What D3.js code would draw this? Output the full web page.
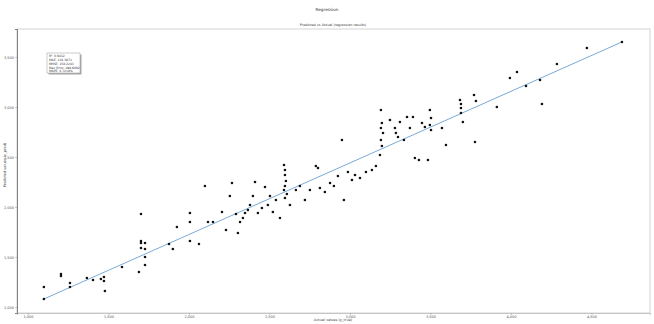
<!DOCTYPE html>
<head>
<meta charset="utf-8">
<style>
  body { margin: 0; background: #fff; }
  text { font-family: "DejaVu Sans", sans-serif; }
</style>
</head>
<body>
  <svg width="654" height="324"></svg>

  <script src="https://d3js.org/d3.v7.min.js"></script>
  <script>
  // actual (y_true) and predicted (y_pred)
  const actual = [
    1099, 1099, 1205, 1205, 1261, 1261, 1366, 1404, 1453, 1472, 1472, 1478, 1584, 1689,
    1702, 1702, 1702, 1727, 1702, 1727, 1727, 1727, 1876, 1900, 1925, 2006, 2006, 2006,
    2062, 2118, 2149, 2099, 2205, 2230, 2254, 2267, 2292, 2304, 2317, 2335, 2348, 2366,
    2379, 2397, 2410, 2428, 2453, 2472, 2490, 2503, 2521, 2540, 2565, 2590, 2596, 2596,
    2602, 2596, 2590, 2608, 2596, 2627, 2664, 2689, 2720, 2751, 2788, 2801, 2813, 2844,
    2876, 2900, 2925, 2950, 2962, 2987, 3012, 3031, 3062, 3099, 3136, 3161, 3192, 3198,
    3192, 3205, 3192, 3198, 3186, 3248, 3279, 3285, 3298, 3310, 3335, 3354, 3372, 3391,
    3403, 3428, 3447, 3465, 3484, 3496, 3503, 3496, 3503, 3571, 3596, 3683, 3689, 3689,
    3689, 3701, 3770, 3782, 3776, 3912, 3993, 4037, 4093, 4180, 4192, 4285, 4471, 4689
  ];
  const predicted = [
    1200, 1080, 1330, 1310, 1240, 1200, 1290, 1270, 1280, 1300, 1260, 1160, 1400, 1350,
    1930, 1660, 1640, 1640, 1590, 1580, 1500, 1420, 1630, 1580, 1800, 1940, 1850, 1660,
    1630, 1850, 1850, 2210, 1950, 1770, 2110, 2240, 1930, 1740, 1850, 1890, 1940, 1970,
    2020, 2110, 2250, 1940, 1990, 2200, 2020, 2110, 1950, 2070, 1890, 2420, 2370, 2320,
    2260, 2210, 2170, 2130, 2090, 2020, 2170, 2210, 2070, 2170, 2410, 2390, 2190, 2150,
    2240, 2210, 2310, 2670, 2070, 2350, 2270, 2320, 2290, 2350, 2370, 2410, 2970, 2840,
    2790, 2740, 2670, 2610, 2520, 2870, 2790, 2740, 2700, 2850, 2670, 2900, 2790, 2900,
    2490, 2470, 2840, 2800, 2470, 2970, 2890, 2820, 2770, 2790, 2620, 3070, 3030, 2990,
    2940, 2850, 3120, 3060, 2650, 3000, 3290, 3350, 3210, 3270, 3030, 3430, 3590, 3650
  ];

  // fitted line (predicted = slope * actual + intercept)
  const fitSlope = 0.716;
  const fitIntercept = 293;

  const xTicks = [1000, 1500, 2000, 2500, 3000, 3500, 4000, 4500];
  const yTicks = [1000, 1500, 2000, 2500, 3000, 3500];

  const legendLines = [
    'R\u00b2: 0.9412',
    'MAE: 124.3871',
    'RMSE: 158.2243',
    'Max Error: 498.6002',
    'MAPE: 4.7218%'
  ];

  const svg = d3.select('svg');
  const plotLeft = 17, plotRight = 650, plotTop = 29, plotBottom = 313;

  const x = d3.scaleLinear().domain([932, 4863]).range([plotLeft, plotRight]);
  const y = d3.scaleLinear().domain([940, 3780]).range([plotBottom, plotTop]);

  // titles
  svg.append('text')
    .attr('x', 327).attr('y', 11)
    .attr('text-anchor', 'middle')
    .attr('font-size', 4.2).attr('fill', '#333')
    .text('Regression');
  svg.append('text')
    .attr('x', 333).attr('y', 26)
    .attr('text-anchor', 'middle')
    .attr('font-size', 3.4).attr('fill', '#333')
    .text('Predicted vs Actual (regression results)');

  // frame
  svg.append('rect')
    .attr('x', plotLeft).attr('y', plotTop)
    .attr('width', plotRight - plotLeft).attr('height', plotBottom - plotTop)
    .attr('fill', 'none').attr('stroke', '#c8c8c8').attr('stroke-width', 0.8);

  // axes
  const xAxis = svg.append('g')
    .attr('transform', `translate(0,${plotBottom})`)
    .call(d3.axisBottom(x).tickValues(xTicks).tickSize(2).tickPadding(1));
  const yAxis = svg.append('g')
    .attr('transform', `translate(${plotLeft},0)`)
    .call(d3.axisLeft(y).tickValues(yTicks).tickSize(2).tickPadding(1));
  [xAxis, yAxis].forEach(g => {
    g.selectAll('text').attr('font-size', 3.5).attr('fill', '#555');
    g.selectAll('line').attr('stroke', '#999').attr('stroke-width', 0.5);
  });
  xAxis.select('.domain').attr('stroke', '#bbb').attr('stroke-width', 0.8);
  yAxis.select('.domain').attr('stroke', '#666').attr('stroke-width', 0.8);

  // axis labels
  svg.append('text')
    .attr('x', 333).attr('y', 321)
    .attr('text-anchor', 'middle')
    .attr('font-size', 3.5).attr('fill', '#444')
    .text('Actual values (y_true)');
  svg.append('text')
    .attr('transform', 'translate(6,165) rotate(-90)')
    .attr('text-anchor', 'middle')
    .attr('font-size', 3.5).attr('fill', '#444')
    .text('Predicted values (y_pred)');

  // fitted line
  const xExt = d3.extent(actual);
  svg.append('line')
    .attr('x1', x(xExt[0])).attr('y1', y(fitSlope * xExt[0] + fitIntercept))
    .attr('x2', x(xExt[1])).attr('y2', y(fitSlope * xExt[1] + fitIntercept))
    .attr('stroke', '#7aaad6').attr('stroke-width', 1);

  // points
  svg.append('g')
    .selectAll('circle')
    .data(actual.map((a, i) => [a, predicted[i]]))
    .enter()
    .append('circle')
    .attr('cx', d => x(d[0]))
    .attr('cy', d => y(d[1]))
    .attr('r', 1.3)
    .attr('fill', '#111');

  // legend box with shadow
  const lg = svg.append('g').attr('transform', 'translate(47,53)');
  lg.append('rect')
    .attr('x', 1.5).attr('y', 1.5).attr('width', 33).attr('height', 20)
    .attr('fill', '#aaa');
  lg.append('rect')
    .attr('width', 33).attr('height', 20)
    .attr('fill', '#fff').attr('stroke', '#999').attr('stroke-width', 0.5);
  lg.selectAll('text')
    .data(legendLines)
    .enter()
    .append('text')
    .attr('x', 2).attr('y', (d, i) => 4.2 + i * 3.8)
    .attr('font-size', 3).attr('fill', '#333')
    .text(d => d);
  </script>
</body>
</html>
